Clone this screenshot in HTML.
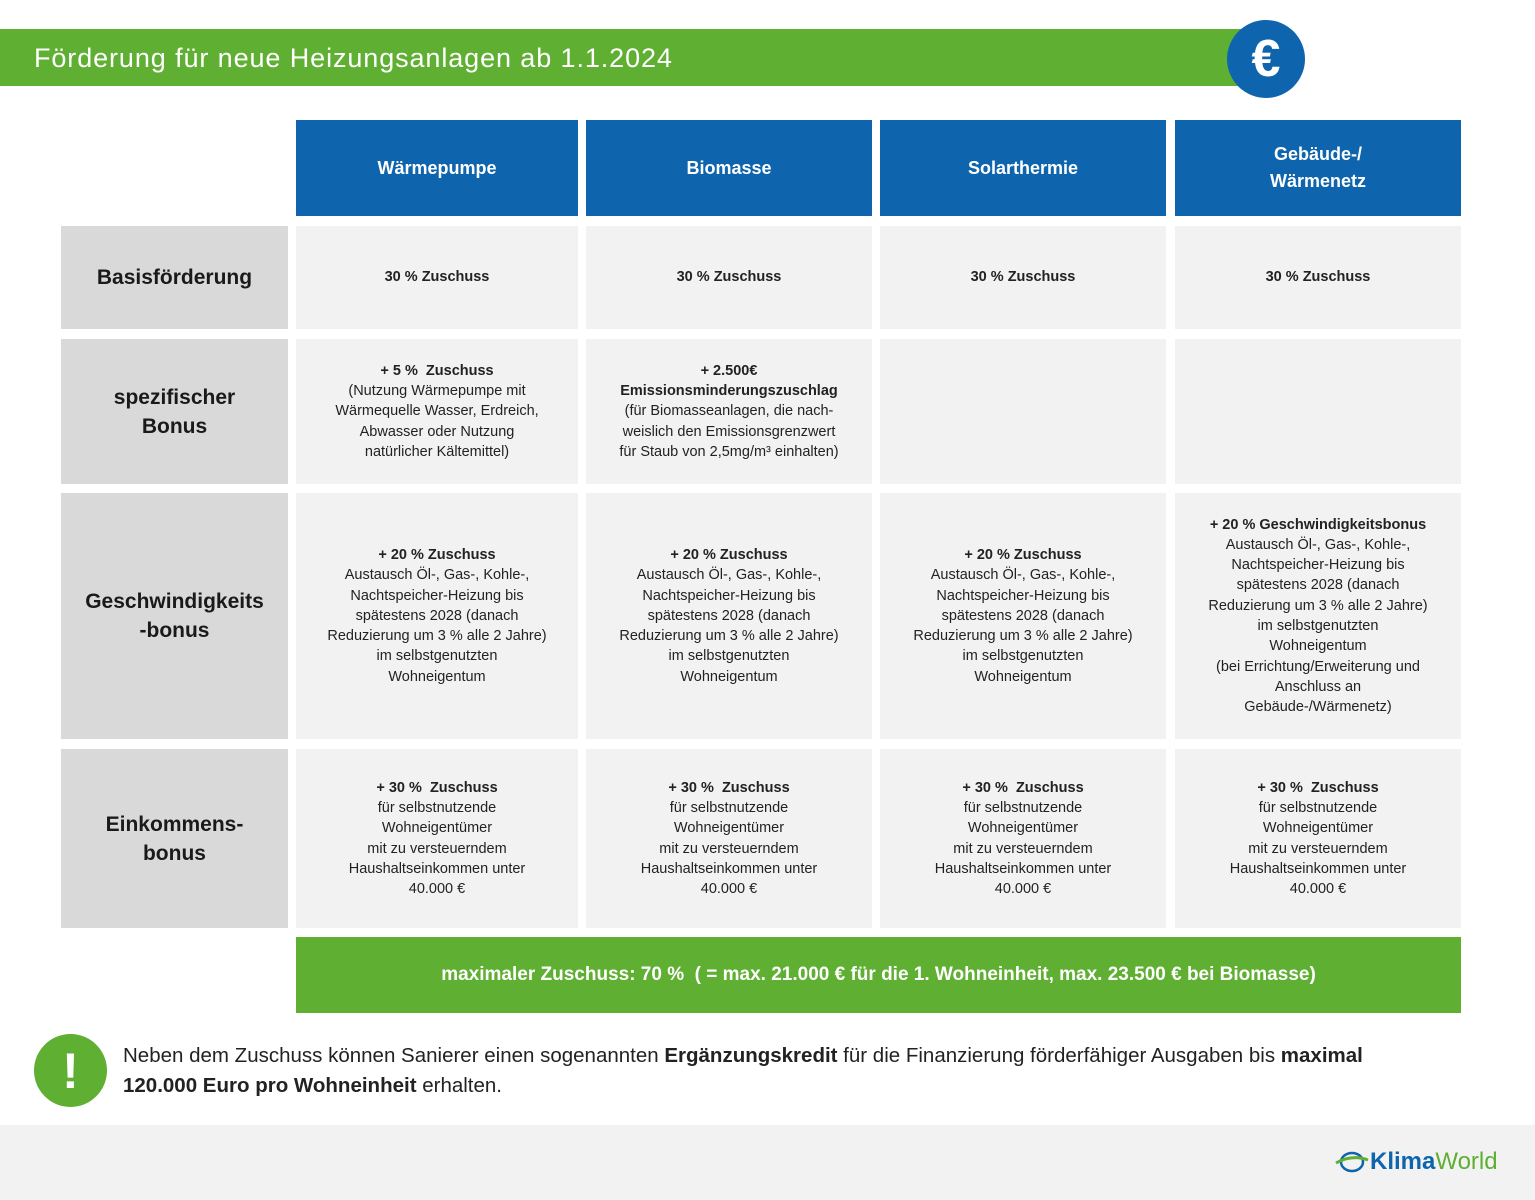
<!DOCTYPE html>
<html><head><meta charset="utf-8"><style>
*{margin:0;padding:0;box-sizing:border-box}
body{width:1535px;height:1200px;background:#fff;position:relative;font-family:"Liberation Sans",sans-serif;overflow:hidden;color:#222}
.a{position:absolute;display:flex;align-items:center;justify-content:center;text-align:center}
.h{background:#0e65ad;color:#fff;font-weight:bold;font-size:18px;line-height:27px}
.l{background:#d9d9d9;font-weight:bold;font-size:21px;line-height:29px;color:#1a1a1a}
.c{background:#f2f2f2;font-size:14.5px;line-height:20.3px;color:#222}
b{font-weight:bold}
</style></head><body>
<div style="position:absolute;left:0;top:29px;width:1262px;height:57px;background:#5faf32"></div>
<div style="position:absolute;left:34px;top:40px;color:#fff;font-size:27px;line-height:36px;letter-spacing:0.9px">Förderung für neue Heizungsanlagen ab 1.1.2024</div>
<div class="a" style="left:1227px;top:20px;width:78px;height:78px;border-radius:50%;background:#0e65ad;color:#fff;font-size:52px;font-weight:bold">€</div>

<div class="a h" style="left:296px;top:120px;width:282px;height:96px">Wärmepumpe</div>
<div class="a h" style="left:586px;top:120px;width:286px;height:96px">Biomasse</div>
<div class="a h" style="left:880px;top:120px;width:286px;height:96px">Solarthermie</div>
<div class="a h" style="left:1175px;top:120px;width:286px;height:96px">Gebäude-/<br>Wärmenetz</div>

<div class="a l" style="left:61px;top:226px;width:227px;height:103px">Basisförderung</div>
<div class="a l" style="left:61px;top:339px;width:227px;height:145px">spezifischer<br>Bonus</div>
<div class="a l" style="left:61px;top:493px;width:227px;height:246px">Geschwindigkeits<br>-bonus</div>
<div class="a l" style="left:61px;top:749px;width:227px;height:179px">Einkommens-<br>bonus</div>

<div class="a c" style="left:296px;top:226px;width:282px;height:103px"><b>30 % Zuschuss</b></div>
<div class="a c" style="left:586px;top:226px;width:286px;height:103px"><b>30 % Zuschuss</b></div>
<div class="a c" style="left:880px;top:226px;width:286px;height:103px"><b>30 % Zuschuss</b></div>
<div class="a c" style="left:1175px;top:226px;width:286px;height:103px"><b>30 % Zuschuss</b></div>

<div class="a c" style="left:296px;top:339px;width:282px;height:145px"><div><b>+ 5 %&nbsp; Zuschuss</b><br>(Nutzung Wärmepumpe mit<br>Wärmequelle Wasser, Erdreich,<br>Abwasser oder Nutzung<br>natürlicher Kältemittel)</div></div>
<div class="a c" style="left:586px;top:339px;width:286px;height:145px"><div><b>+ 2.500€<br>Emissionsminderungszuschlag</b><br>(für Biomasseanlagen, die nach-<br>weislich den Emissionsgrenzwert<br>für Staub von 2,5mg/m³ einhalten)</div></div>
<div class="a c" style="left:880px;top:339px;width:286px;height:145px"></div>
<div class="a c" style="left:1175px;top:339px;width:286px;height:145px"></div>

<div class="a c" style="left:296px;top:493px;width:282px;height:246px"><div><b>+ 20 % Zuschuss</b><br>Austausch Öl-, Gas-, Kohle-,<br>Nachtspeicher-Heizung bis<br>spätestens 2028 (danach<br>Reduzierung um 3 % alle 2 Jahre)<br>im selbstgenutzten<br>Wohneigentum</div></div>
<div class="a c" style="left:586px;top:493px;width:286px;height:246px"><div><b>+ 20 % Zuschuss</b><br>Austausch Öl-, Gas-, Kohle-,<br>Nachtspeicher-Heizung bis<br>spätestens 2028 (danach<br>Reduzierung um 3 % alle 2 Jahre)<br>im selbstgenutzten<br>Wohneigentum</div></div>
<div class="a c" style="left:880px;top:493px;width:286px;height:246px"><div><b>+ 20 % Zuschuss</b><br>Austausch Öl-, Gas-, Kohle-,<br>Nachtspeicher-Heizung bis<br>spätestens 2028 (danach<br>Reduzierung um 3 % alle 2 Jahre)<br>im selbstgenutzten<br>Wohneigentum</div></div>
<div class="a c" style="left:1175px;top:493px;width:286px;height:246px"><div><b>+ 20 % Geschwindigkeitsbonus</b><br>Austausch Öl-, Gas-, Kohle-,<br>Nachtspeicher-Heizung bis<br>spätestens 2028 (danach<br>Reduzierung um 3 % alle 2 Jahre)<br>im selbstgenutzten<br>Wohneigentum<br>(bei Errichtung/Erweiterung und<br>Anschluss an<br>Gebäude-/Wärmenetz)</div></div>

<div class="a c" style="left:296px;top:749px;width:282px;height:179px"><div><b>+ 30 %&nbsp; Zuschuss</b><br>für selbstnutzende<br>Wohneigentümer<br>mit zu versteuerndem<br>Haushaltseinkommen unter<br>40.000 €</div></div>
<div class="a c" style="left:586px;top:749px;width:286px;height:179px"><div><b>+ 30 %&nbsp; Zuschuss</b><br>für selbstnutzende<br>Wohneigentümer<br>mit zu versteuerndem<br>Haushaltseinkommen unter<br>40.000 €</div></div>
<div class="a c" style="left:880px;top:749px;width:286px;height:179px"><div><b>+ 30 %&nbsp; Zuschuss</b><br>für selbstnutzende<br>Wohneigentümer<br>mit zu versteuerndem<br>Haushaltseinkommen unter<br>40.000 €</div></div>
<div class="a c" style="left:1175px;top:749px;width:286px;height:179px"><div><b>+ 30 %&nbsp; Zuschuss</b><br>für selbstnutzende<br>Wohneigentümer<br>mit zu versteuerndem<br>Haushaltseinkommen unter<br>40.000 €</div></div>

<div class="a" style="left:296px;top:937px;width:1165px;height:76px;background:#5faf32;color:#fff;font-weight:bold;font-size:19px">maximaler Zuschuss: 70 %&nbsp; ( = max. 21.000 € für die 1. Wohneinheit, max. 23.500 € bei Biomasse)</div>

<div class="a" style="left:34px;top:1034px;width:73px;height:73px;border-radius:50%;background:#5faf32;color:#fff;font-size:50px;font-weight:bold">!</div>
<div style="position:absolute;left:123px;top:1041px;width:1310px;font-size:20.5px;line-height:30px;color:#222">Neben dem Zuschuss können Sanierer einen sogenannten <b>Ergänzungskredit</b> für die Finanzierung förderfähiger Ausgaben bis <b>maximal 120.000 Euro pro Wohneinheit</b> erhalten.</div>

<div style="position:absolute;left:0;top:1125px;width:1535px;height:75px;background:#f2f2f2"></div>
<svg style="position:absolute;left:1335px;top:1150px" width="34" height="24" viewBox="0 0 34 24"><ellipse cx="17" cy="12" rx="11" ry="9" fill="none" stroke="#0e65ad" stroke-width="2.5"/><path d="M1 13 Q17 4 33 10" stroke="#5faf32" stroke-width="3" fill="none"/></svg>
<div style="position:absolute;left:1370px;top:1147px;font-size:24px;line-height:30px"><b style="color:#0e65ad">Klima</b><span style="color:#5faf32">World</span></div>
</body></html>
